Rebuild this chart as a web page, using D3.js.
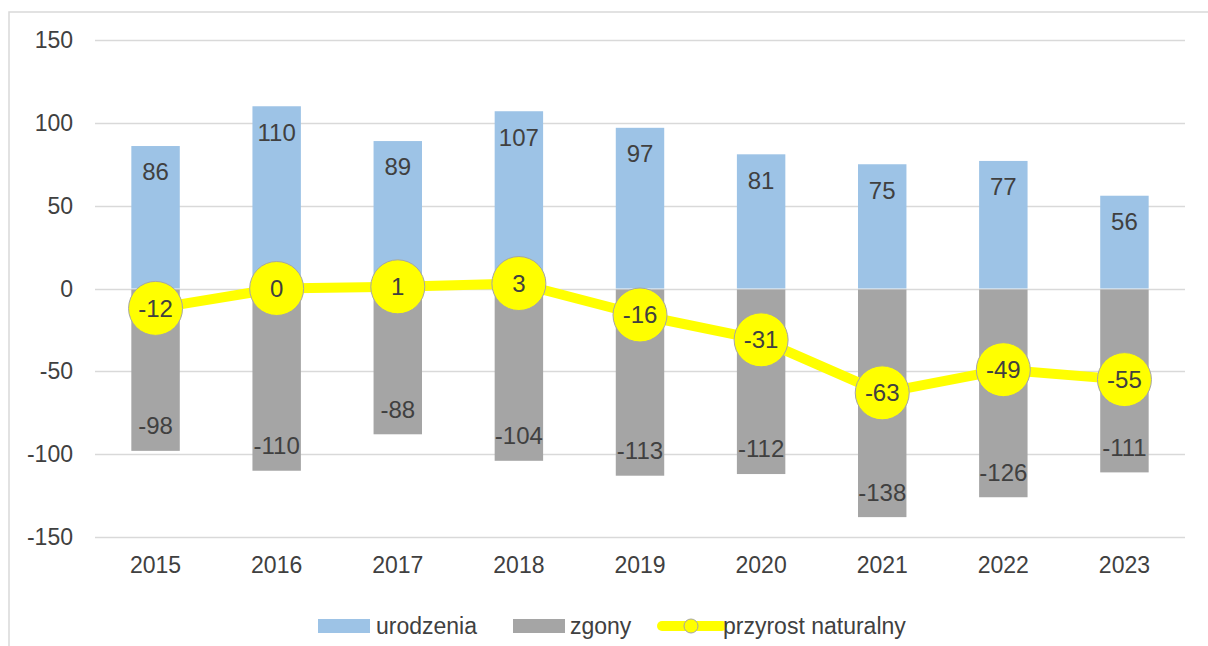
<!DOCTYPE html>
<html lang="pl">
<head>
<meta charset="UTF-8">
<title>Urodzenia, zgony, przyrost naturalny</title>
<script src="https://d3js.org/d3.v7.min.js"></script>
<style>
  body { margin: 0; background: #fff; }
  text { font-family: "Liberation Sans", Arial, sans-serif; fill: #404040; }
</style>
</head>
<body>
<div id="chart"></div>
<script>
var years = ["2015", "2016", "2017", "2018", "2019", "2020", "2021", "2022", "2023"];
var urodzenia = [86, 110, 89, 107, 97, 81, 75, 77, 56];
var zgony = [-98, -110, -88, -104, -113, -112, -138, -126, -111];
var przyrost = [-12, 0, 1, 3, -16, -31, -63, -49, -55];
var yTicks = [-150, -100, -50, 0, 50, 100, 150];

var width = 1208, height = 646;
var margin = {left: 95, right: 23, top: 40, bottom: 109};

var svg = d3.select("#chart").append("svg")
    .attr("width", width)
    .attr("height", height);

// chart frame (runs off the right and bottom edge)
svg.append("rect")
    .attr("x", 9).attr("y", 12)
    .attr("width", 1400).attr("height", 800)
    .attr("fill", "none")
    .attr("stroke", "#d9d9d9")
    .attr("stroke-width", 1.5);

var x = d3.scaleBand()
    .domain(years)
    .range([margin.left, width - margin.right])
    .paddingInner(0.6)
    .paddingOuter(0.3);

var y = d3.scaleLinear()
    .domain([-150, 150])
    .range([height - margin.bottom, margin.top]);

// gridlines
svg.append("g")
  .selectAll("line")
  .data(yTicks)
  .enter().append("line")
    .attr("x1", margin.left)
    .attr("x2", width - margin.right)
    .attr("y1", function(d) { return Math.round(y(d)) + 0.5; })
    .attr("y2", function(d) { return Math.round(y(d)) + 0.5; })
    .attr("stroke", "#d9d9d9")
    .attr("stroke-width", 1.5);

// y tick labels
svg.append("g")
  .selectAll("text")
  .data(yTicks)
  .enter().append("text")
    .attr("x", 73)
    .attr("y", function(d) { return y(d); })
    .attr("dy", "0.35em")
    .attr("text-anchor", "end")
    .style("font-size", "23px")
    .text(function(d) { return d; });

// x labels
svg.append("g")
  .selectAll("text")
  .data(years)
  .enter().append("text")
    .attr("x", function(d) { return x(d) + x.bandwidth() / 2; })
    .attr("y", 565)
    .attr("dy", "0.35em")
    .attr("text-anchor", "middle")
    .style("font-size", "23px")
    .text(function(d) { return d; });

// bars
svg.append("g")
  .selectAll("rect")
  .data(urodzenia)
  .enter().append("rect")
    .attr("x", function(d, i) { return x(years[i]); })
    .attr("y", function(d) { return y(d); })
    .attr("width", x.bandwidth())
    .attr("height", function(d) { return y(0) - y(d); })
    .attr("fill", "#9dc3e6");

svg.append("g")
  .selectAll("rect")
  .data(zgony)
  .enter().append("rect")
    .attr("x", function(d, i) { return x(years[i]); })
    .attr("y", y(0) + 1)
    .attr("width", x.bandwidth())
    .attr("height", function(d) { return y(d) - y(0) - 1; })
    .attr("fill", "#a5a5a5");

// bar labels (inside end)
svg.append("g")
  .selectAll("text")
  .data(urodzenia)
  .enter().append("text")
    .attr("x", function(d, i) { return x(years[i]) + x.bandwidth() / 2; })
    .attr("y", function(d) { return y(d) + 26; })
    .attr("dy", "0.35em")
    .attr("text-anchor", "middle")
    .style("font-size", "24px")
    .text(function(d) { return d; });

svg.append("g")
  .selectAll("text")
  .data(zgony)
  .enter().append("text")
    .attr("x", function(d, i) { return x(years[i]) + x.bandwidth() / 2; })
    .attr("y", function(d) { return y(d) - 25; })
    .attr("dy", "0.35em")
    .attr("text-anchor", "middle")
    .style("font-size", "24px")
    .text(function(d) { return d; });

// przyrost naturalny line
var line = d3.line()
    .x(function(d, i) { return x(years[i]) + x.bandwidth() / 2; })
    .y(function(d) { return y(d); });

svg.append("path")
    .datum(przyrost)
    .attr("d", line)
    .attr("fill", "none")
    .attr("stroke", "#ffff00")
    .attr("stroke-width", 10)
    .attr("stroke-linejoin", "round");

var pt = svg.append("g")
  .selectAll("g")
  .data(przyrost)
  .enter().append("g")
    .attr("transform", function(d, i) {
      return "translate(" + (x(years[i]) + x.bandwidth() / 2) + "," + y(d) + ")";
    });

pt.append("circle")
    .attr("r", 27)
    .attr("fill", "#ffff00")
    .attr("stroke", "#a5a5a5")
    .attr("stroke-width", 1);

pt.append("text")
    .attr("dy", "0.35em")
    .attr("text-anchor", "middle")
    .style("font-size", "24px")
    .text(function(d) { return d; });

// legend
var ly = 626;
var legend = svg.append("g");

legend.append("rect")
    .attr("x", 318).attr("y", ly - 7)
    .attr("width", 52).attr("height", 14)
    .attr("fill", "#9dc3e6");
legend.append("text")
    .attr("x", 376).attr("y", ly).attr("dy", "0.35em")
    .style("font-size", "23px")
    .text("urodzenia");

legend.append("rect")
    .attr("x", 513).attr("y", ly - 7)
    .attr("width", 52).attr("height", 14)
    .attr("fill", "#a5a5a5");
legend.append("text")
    .attr("x", 570).attr("y", ly).attr("dy", "0.35em")
    .style("font-size", "23px")
    .text("zgony");

legend.append("line")
    .attr("x1", 662).attr("x2", 722)
    .attr("y1", ly).attr("y2", ly)
    .attr("stroke", "#ffff00")
    .attr("stroke-width", 10)
    .attr("stroke-linecap", "round");
legend.append("circle")
    .attr("cx", 691).attr("cy", ly)
    .attr("r", 7)
    .attr("fill", "#ffff00")
    .attr("stroke", "#a5a5a5")
    .attr("stroke-width", 1);
legend.append("text")
    .attr("x", 723).attr("y", ly).attr("dy", "0.35em")
    .style("font-size", "23px")
    .text("przyrost naturalny");
</script>
</body>
</html>
